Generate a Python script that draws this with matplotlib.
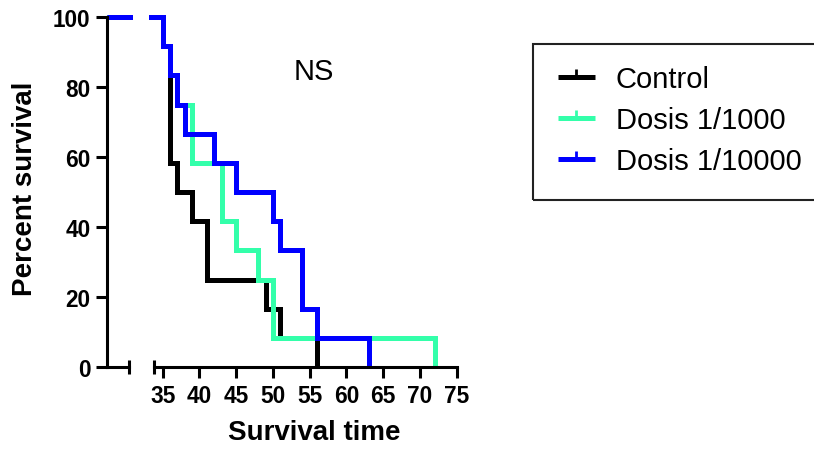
import matplotlib
matplotlib.use('Agg')
import matplotlib.pyplot as plt
from matplotlib.lines import Line2D
from matplotlib.patches import Rectangle

plt.rcParams['font.family'] = ['Liberation Sans', 'DejaVu Sans']

# Kaplan-Meier steps (time, percent surviving after the event)
control_times = [35, 36, 37, 39, 41, 49, 51, 56]
control_surv = [91.7, 58.3, 50.0, 41.7, 25.0, 16.7, 8.3, 0.0]

dose1000_times = [35, 36, 37, 39, 43, 45, 48, 50, 72]
dose1000_surv = [91.7, 83.3, 75.0, 58.3, 41.7, 33.3, 25.0, 8.3, 0.0]

dose10000_times = [35, 36, 37, 38, 42, 45, 50, 51, 54, 56, 63]
dose10000_surv = [91.7, 83.3, 75.0, 66.7, 58.3, 50.0, 41.7, 33.3, 16.7, 8.3, 0.0]

series = [
    ('Control', control_times, control_surv, 'black'),
    ('Dosis 1/1000', dose1000_times, dose1000_surv, '#33FFAA'),
    ('Dosis 1/10000', dose10000_times, dose10000_surv, '#0000FF'),
]

x_ticks = [35, 40, 45, 50, 55, 60, 65, 70, 75]
y_ticks = [0, 20, 40, 60, 80, 100]

W, H = 814, 452
fig = plt.figure(figsize=(W / 100, H / 100), dpi=100)

# pixel layout of the broken x axis
px_per_unit = 7.35
x35 = 162.7
y_zero, y_hundred = 368.0, 18.0
px_per_pct = (y_zero - y_hundred) / 100
ylo, yhi = -2, 102
ax_bottom = y_zero + 2 * px_per_pct
ax_top = y_hundred - 2 * px_per_pct

def px_axes(left, right):
    return fig.add_axes([left / W, 1 - ax_bottom / H, (right - left) / W, (ax_bottom - ax_top) / H])

left_lim = (0, 3.6)
left_seg_end = 3.07
right_lim = (33.2, 75.5)
right_seg_start = 33.85

spine_x = 106.7
ax1 = px_axes(spine_x, spine_x + (left_lim[1] - left_lim[0]) * px_per_unit)
ax2 = px_axes(x35 + (right_lim[0] - 35) * px_per_unit, x35 + (right_lim[1] - 35) * px_per_unit)

lw = 3.6
for label, t, s, c in series:
    for ax in (ax1, ax2):
        ax.plot([0] + t, [100] + s, drawstyle='steps-post', color=c, lw=lw,
                solid_joinstyle='miter', solid_capstyle='butt', label=label)

spine_w = 2.2
for ax, lim in ((ax1, left_lim), (ax2, right_lim)):
    ax.set_xlim(*lim)
    ax.set_ylim(ylo, yhi)
    ax.spines['top'].set_visible(False)
    ax.spines['right'].set_visible(False)
    ax.spines['bottom'].set_position(('data', 0))
    ax.spines['bottom'].set_linewidth(spine_w)
    ax.spines['left'].set_linewidth(spine_w)
    ax.patch.set_visible(False)

# left piece of the axis
ax1.spines['left'].set_bounds(0, 100)
ax1.spines['bottom'].set_bounds(0, left_seg_end)
ax1.set_yticks(y_ticks, labels=[str(v) for v in y_ticks], fontsize=16.3, fontweight='bold')
ax1.tick_params(axis='y', direction='out', length=8, width=spine_w, pad=3.6)
ax1.set_xticks([])
ax1.set_xticks([left_seg_end], minor=True)
ax1.tick_params(axis='x', which='minor', direction='inout', length=9.5, width=spine_w, labelbottom=False)

# right piece of the axis
ax2.spines['left'].set_visible(False)
ax2.set_yticks([])
ax2.spines['bottom'].set_bounds(right_seg_start, 75)
ax2.set_xticks(x_ticks, labels=[str(v) for v in x_ticks], fontsize=16.3, fontweight='bold')
ax2.tick_params(axis='x', which='major', direction='out', length=8, width=spine_w, pad=4)
ax2.set_xticks([right_seg_start], minor=True)
ax2.tick_params(axis='x', which='minor', direction='inout', length=9.5, width=spine_w, labelbottom=False)

fig.text(25 / W, 1 - 188.5 / H, 'Percent survival', rotation=90, fontsize=20,
         fontweight='bold', ha='center', va='center')
fig.text(314 / W, 1 - 433 / H, 'Survival time', fontsize=20,
         fontweight='bold', ha='center', va='center')
fig.text(313.7 / W, 1 - 72 / H, 'NS', fontsize=21, ha='center', va='center')

# legend
handles = [Line2D([0], [0], color=c, lw=lw, marker=2, markersize=6.1, mew=2,
                  solid_capstyle='butt') for _, _, _, c in series]
labels = [lab for lab, _, _, _ in series]
fig.legend(handles, labels, loc='upper left', bbox_to_anchor=(557.5 / W, 1 - 66 / H),
           frameon=False, borderpad=0, borderaxespad=0, numpoints=1, handlelength=1.3,
           handletextpad=0.7, labelspacing=0.45, fontsize=21)
fig.add_artist(Rectangle((532.7 / W, 1 - 200.7 / H), 0.5, (200.7 - 45) / H,
                         transform=fig.transFigure, fill=False, lw=1.5,
                         edgecolor='#222222', clip_on=False))

fig.savefig('out.png', dpi=100)
